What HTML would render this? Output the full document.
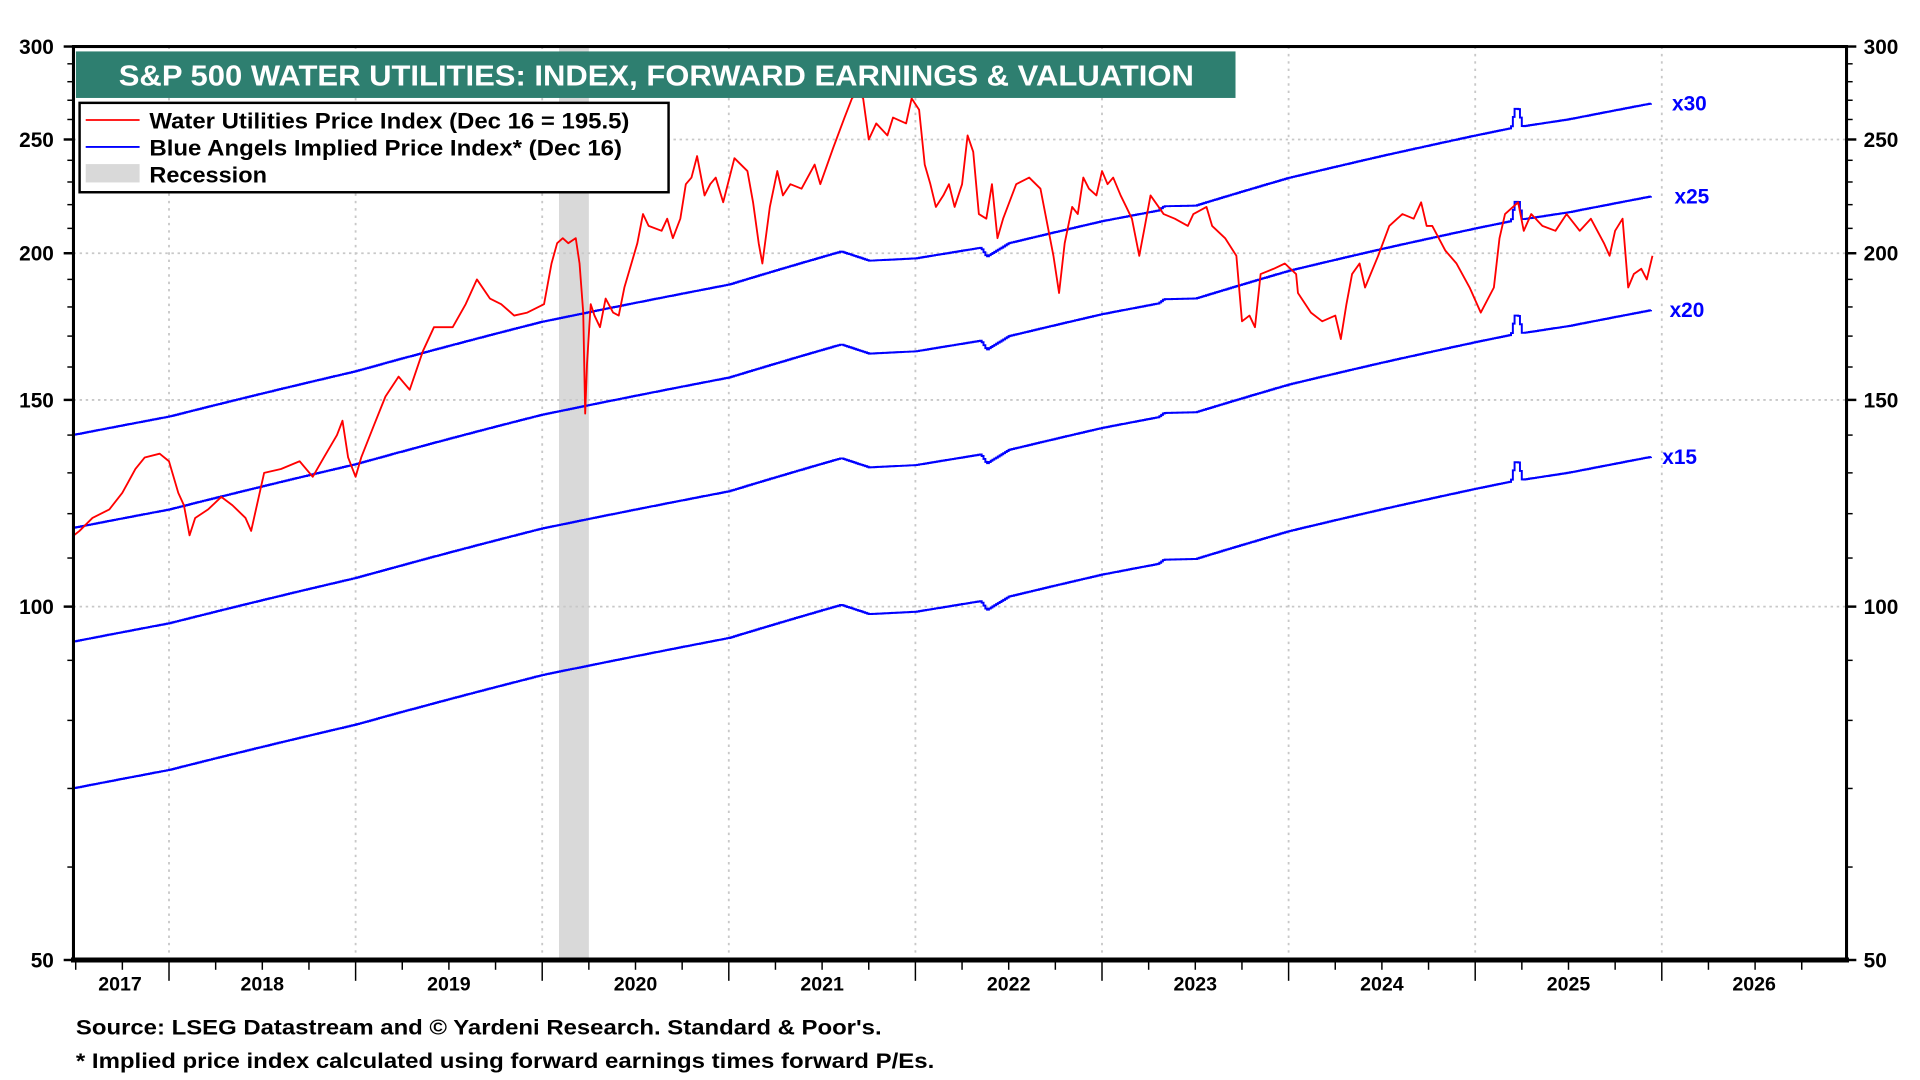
<!DOCTYPE html>
<html><head><meta charset="utf-8"><style>
html,body{margin:0;padding:0;background:#fff;}
svg{display:block;font-family:"Liberation Sans",Arial,sans-serif;font-weight:bold;}
</style></head><body>
<svg id="chart" width="1920" height="1080" viewBox="0 0 1568 882" preserveAspectRatio="none" xmlns="http://www.w3.org/2000/svg"></svg>
<script>
const priceDates=[2017.49,2017.52,2017.59,2017.68,2017.75,2017.82,2017.87,2017.95,2018.00,2018.05,2018.08,2018.11,2018.14,2018.21,2018.28,2018.34,2018.41,2018.44,2018.51,2018.60,2018.70,2018.77,2018.83,2018.90,2018.93,2018.96,2019.00,2019.03,2019.10,2019.16,2019.23,2019.29,2019.36,2019.42,2019.52,2019.59,2019.65,2019.72,2019.78,2019.85,2019.92,2020.01,2020.05,2020.08,2020.11,2020.14,2020.18,2020.20,2020.22,2020.23,2020.24,2020.26,2020.28,2020.31,2020.34,2020.38,2020.41,2020.44,2020.47,2020.51,2020.54,2020.57,2020.64,2020.67,2020.70,2020.74,2020.77,2020.80,2020.83,2020.87,2020.90,2020.93,2020.97,2021.03,2021.10,2021.13,2021.16,2021.18,2021.22,2021.26,2021.29,2021.33,2021.39,2021.46,2021.49,2021.56,2021.62,2021.66,2021.69,2021.72,2021.75,2021.79,2021.85,2021.88,2021.95,2021.98,2022.02,2022.05,2022.08,2022.11,2022.15,2022.18,2022.21,2022.25,2022.28,2022.31,2022.34,2022.38,2022.41,2022.44,2022.47,2022.54,2022.61,2022.67,2022.74,2022.77,2022.80,2022.84,2022.87,2022.90,2022.93,2022.97,2023.00,2023.03,2023.06,2023.10,2023.13,2023.16,2023.20,2023.23,2023.26,2023.33,2023.39,2023.46,2023.49,2023.56,2023.59,2023.66,2023.72,2023.75,2023.79,2023.82,2023.85,2023.92,2023.98,2024.04,2024.05,2024.12,2024.18,2024.25,2024.28,2024.31,2024.34,2024.38,2024.41,2024.48,2024.54,2024.61,2024.67,2024.71,2024.74,2024.77,2024.84,2024.90,2024.97,2025.03,2025.10,2025.13,2025.16,2025.23,2025.26,2025.30,2025.36,2025.43,2025.49,2025.56,2025.62,2025.69,2025.72,2025.75,2025.79,2025.82,2025.85,2025.89,2025.92,2025.95];
const priceValues=[115,116,119,121,125,131,134,135,133,125,122,115,119,121,124,122,119,116,130,131,133,129,134,140,144,134,129,134,143,151,157,153,165,173,173,181,190,183,181,177,178,181,196,204,206,204,206,196,178,146,161,181,177,173,183,178,177,187,194,204,216,211,209,214,206,214,229,232,242,224,229,232,221,241,235,221,204,196,219,235,224,229,227,238,229,246,261,271,274,271,250,258,252,261,258,271,265,238,229,219,224,229,219,229,252,244,216,214,229,206,214,229,232,227,199,185,204,219,216,232,227,224,235,229,232,224,219,214,199,211,224,216,214,211,216,219,211,206,199,175,177,173,192,194,196,192,185,178,175,177,169,181,192,196,187,199,211,216,214,221,211,211,201,196,187,178,187,206,216,221,209,216,211,209,216,209,214,204,199,209,214,187,192,194,190,199];
const earnDates=[2017.49,2018.0,2019.0,2020.0,2021.0,2021.6,2021.75,2022.0,2022.35,2022.38,2022.5,2023.0,2023.3,2023.33,2023.5,2024.0,2024.5,2025.0,2025.19,2025.21,2025.23,2025.25,2025.5,2025.95];
const earnValues=[4.67,4.84,5.29,5.83,6.27,6.69,6.57,6.60,6.74,6.62,6.8,7.1,7.25,7.31,7.32,7.73,8.07,8.4,8.52,8.85,8.85,8.55,8.67,8.95];
const multiples=[15,20,25,30];
const multLabels=["x15","x20","x25","x30"];
const yTicks=[50,100,150,200,250,300];
const yearLabels=["2017","2018","2019","2020","2021","2022","2023","2024","2025","2026"];
const recession=[2020.09,2020.25];

const svg=document.getElementById('chart');
const NS='http://www.w3.org/2000/svg';
const L=60,R=1508,T=38,B=784;
const X0=2017.488,X1=2026.99;
const xs=d=>L+(d-X0)/(X1-X0)*(R-L);
const ys=v=>T+Math.log(300/v)/Math.log(6)*(B-T);
function mk(tag,attrs,parent){const e=document.createElementNS(NS,tag);for(const k in attrs)e.setAttribute(k,attrs[k]);(parent||svg).appendChild(e);return e;}

const rec=mk('rect',{x:xs(recession[0]),y:T,width:xs(recession[1])-xs(recession[0]),height:B-T,fill:'#d9d9d9'});



[100,150,200,250].forEach(v=>{const g=mk('line',{x1:L,x2:R,y1:ys(v),y2:ys(v),stroke:'#c8c8c8','stroke-width':1.5,'stroke-dasharray':'2 3'});

});
for(let y=2018;y<=2026;y++){const g=mk('line',{x1:xs(y),x2:xs(y),y1:T,y2:B,stroke:'#c8c8c8','stroke-width':1.5,'stroke-dasharray':'2 4'});

}

function earnAt(d){for(let i=0;i<earnDates.length-1;i++){if(d<=earnDates[i+1]){const t=(d-earnDates[i])/(earnDates[i+1]-earnDates[i]);return earnValues[i]+t*(earnValues[i+1]-earnValues[i]);}}return earnValues[earnValues.length-1];}
const labOff={15:0,20:6,25:10,30:8};
multiples.forEach((m,mi)=>{
  let pts=[];let prev=null;
  for(let d=earnDates[0];d<=earnDates[earnDates.length-1]+1e-6;d+=1/104){
    const v=earnAt(d)*m;const x=xs(d),y=ys(v);
    if(prev!==null)pts.push(x.toFixed(1)+','+prev.toFixed(1));
    pts.push(x.toFixed(1)+','+y.toFixed(1));prev=y;}
  const p=mk('polyline',{points:pts.join(' '),fill:'none',stroke:'#0000ff','stroke-width':1.6});
  
  
  const ld=earnDates[earnDates.length-1];
  const t=mk('text',{x:xs(ld)+8+labOff[m],y:ys(earnValues[earnValues.length-1]*m)+6,fill:'#0000ff','font-size':17});
  t.textContent=multLabels[mi];
  
  
});

const rp=mk('polyline',{points:priceDates.map((d,i)=>xs(d).toFixed(1)+','+ys(priceValues[i]).toFixed(1)).join(' '),fill:'none',stroke:'#ff0000','stroke-width':1.5,'stroke-linejoin':'round'});



const fr=mk('rect',{x:L,y:T,width:R-L,height:B-T,fill:'none',stroke:'#000','stroke-width':2.5});


const bl=mk('line',{x1:L-2,x2:R+2,y1:B,y2:B,stroke:'#000','stroke-width':4});



for(let v=50;v<=300;v+=10){[[L,L-5],[R,R+5]].forEach(([a,b])=>{mk('line',{x1:a,x2:b,y1:ys(v),y2:ys(v),stroke:'#000','stroke-width':1.2});});}
yTicks.forEach(v=>{
  mk('line',{x1:L-8,x2:L,y1:ys(v),y2:ys(v),stroke:'#000','stroke-width':2});
  mk('line',{x1:R,x2:R+8,y1:ys(v),y2:ys(v),stroke:'#000','stroke-width':2});
  const a=mk('text',{x:L-16,y:ys(v)+6,'text-anchor':'end','font-size':17});a.textContent=v;
  
  
  const b=mk('text',{x:R+14,y:ys(v)+6,'font-size':17});b.textContent=v;
  
  
});
for(let y=2017;y<=2027;y+=0.25){const x=xs(y);if(x<L||x>R)continue;const major=Math.abs(y-Math.round(y))<1e-6;
  mk('line',{x1:x,x2:x,y1:B,y2:B+(major?17:8),stroke:'#000','stroke-width':1.2});}
yearLabels.forEach((lab,i)=>{const yr=2017+i;let x=(xs(Math.max(yr,X0))+xs(Math.min(yr+1,X1)))/2;if(yr===2017)x=98;
  const t=mk('text',{x:x,y:B+25,'text-anchor':'middle','font-size':16});t.textContent=lab;
  
  });

const tb=mk('rect',{x:62,y:42,width:947,height:38,fill:'#2e7f70'});


const tt=mk('text',{x:97,y:70,fill:'#fff','font-size':23.5,textLength:878,lengthAdjust:'spacingAndGlyphs'});tt.textContent='S&P 500 WATER UTILITIES: INDEX, FORWARD EARNINGS & VALUATION';



const lg=mk('g',{});


mk('rect',{x:65,y:84,width:481,height:73,fill:'#fff',stroke:'#000','stroke-width':2},lg);
mk('line',{x1:70,x2:114,y1:98,y2:98,stroke:'#ff0000','stroke-width':1.5},lg);
mk('line',{x1:70,x2:114,y1:120,y2:120,stroke:'#0000ff','stroke-width':1.5},lg);
mk('rect',{x:70,y:134,width:44,height:15,fill:'#d9d9d9'},lg);
[['Water Utilities Price Index (Dec 16 = 195.5)',105,'legend-entry-price',392],['Blue Angels Implied Price Index* (Dec 16)',127,'legend-entry-implied',386],['Recession',149,'legend-entry-recession',96]].forEach(([s,y,n,w])=>{
  const t=mk('text',{x:122,y:y,'font-size':18,textLength:w,lengthAdjust:'spacingAndGlyphs'},lg);t.textContent=s;
  
  });

const f1=mk('text',{x:62,y:845,'font-size':17,textLength:658,lengthAdjust:'spacingAndGlyphs'});f1.textContent="Source: LSEG Datastream and \u00A9 Yardeni Research. Standard & Poor's.";


const f2=mk('text',{x:62,y:872,'font-size':17,textLength:701,lengthAdjust:'spacingAndGlyphs'});f2.textContent='* Implied price index calculated using forward earnings times forward P/Es.';


</script>
</body></html>
